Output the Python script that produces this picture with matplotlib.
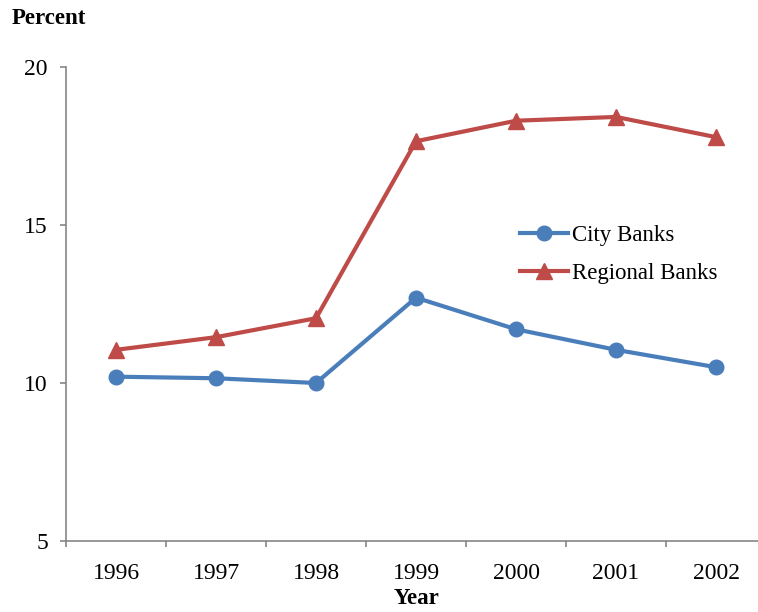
import matplotlib
matplotlib.use("Agg")
import matplotlib.pyplot as plt
from matplotlib.ticker import FixedLocator, NullFormatter

# Capital ratio by bank type, percent
years = ['1996', '1997', '1998', '1999', '2000', '2001', '2002']
city_banks = [10.2, 10.15, 10.0, 12.7, 11.7, 11.05, 10.5]
regional_banks = [11.05, 11.45, 12.05, 17.65, 18.3, 18.42, 17.78]

plt.rcParams['font.family'] = ['Liberation Serif', 'DejaVu Serif']

W, H = 758, 612
fig = plt.figure(figsize=(W / 100, H / 100), dpi=100)
ax = fig.add_axes([66 / W, (H - 541) / H, 700 / W, (541 - 67) / H])

x = list(range(len(years)))
ax.plot(x, city_banks, color='#4A7EBB', lw=3.0, marker='o', ms=10.5,
        label='City Banks', solid_joinstyle='round')
ax.plot(x, regional_banks, color='#BE4B48', lw=3.0, marker='^', ms=11,
        label='Regional Banks', solid_joinstyle='round')

ax.set_xlim(-0.5, 6.5)
ax.set_ylim(5, 20)
ax.set_yticks([5, 10, 15, 20])

# category labels in the middle, tick marks on the boundaries
ax.xaxis.set_major_locator(FixedLocator([i + 0.5 for i in range(-1, 7)]))
ax.xaxis.set_major_formatter(NullFormatter())
ax.xaxis.set_minor_locator(FixedLocator(x))
ax.set_xticklabels(years, minor=True)
ax.tick_params(axis='x', which='major', direction='out', length=4.5,
               color='#868686', width=1.2)
ax.tick_params(axis='x', which='minor', length=0, pad=16, labelsize=17)
ax.tick_params(axis='y', direction='out', length=4.5, color='#868686',
               width=1.2, pad=8.5, labelsize=17)

for side in ['top', 'right']:
    ax.spines[side].set_visible(False)
for side in ['left', 'bottom']:
    ax.spines[side].set_color('#868686')
    ax.spines[side].set_linewidth(1.2)

fig.text(12 / W, 1 - 18 / H, 'Percent', fontsize=16.5, fontweight='bold',
         ha='left', va='center')
fig.text(416 / W, 1 - 599 / H, 'Year', fontsize=16.5, fontweight='bold',
         ha='center', va='center')

ax.legend(loc='upper left', bbox_to_anchor=(520 / W, 1 - 225 / H),
          bbox_transform=fig.transFigure, frameon=False, fontsize=16.5,
          handlelength=2.1, handletextpad=0.15, labelspacing=0.72,
          borderpad=0, borderaxespad=0)

fig.savefig('out.png', dpi=100)
